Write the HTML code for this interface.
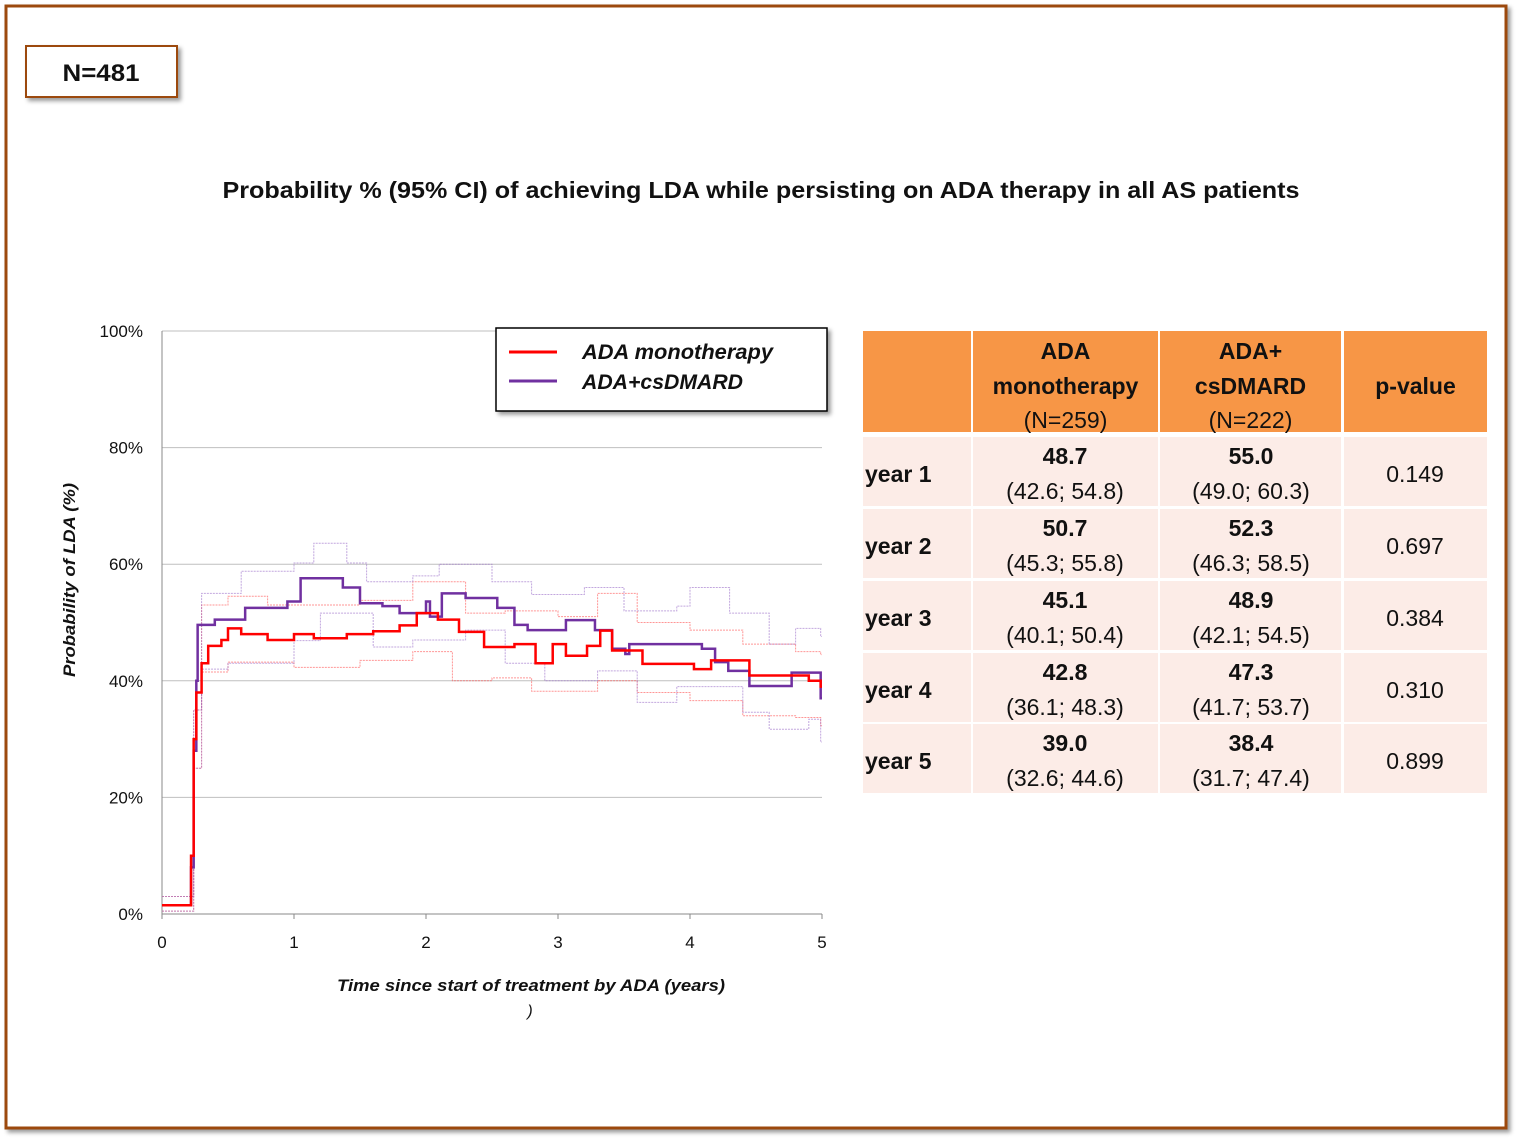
<!DOCTYPE html>
<html><head><meta charset="utf-8"><style>
html,body{margin:0;padding:0;background:#fff;}
svg{display:block;font-family:"Liberation Sans",sans-serif;}
</style></head><body>
<svg id="s" width="1521" height="1143" viewBox="0 0 1521 1143" xmlns="http://www.w3.org/2000/svg">
<defs>
<filter id="sh" x="-10%" y="-10%" width="130%" height="140%"><feDropShadow dx="3" dy="3" stdDeviation="2" flood-color="#000" flood-opacity="0.4"/></filter>
</defs>
<rect x="6" y="6" width="1500" height="1122" fill="#fff" stroke="#9c4a0c" stroke-width="3" filter="url(#sh)"/>
<g>
<rect x="26" y="46" width="151" height="51" fill="#fff" stroke="#9c4a0c" stroke-width="2" filter="url(#sh)"/>
<text x="101" y="81" text-anchor="middle" font-size="24" font-weight="bold" fill="#111" textLength="77" lengthAdjust="spacingAndGlyphs">N=481</text>
</g>
<text x="761" y="198" text-anchor="middle" font-size="23" font-weight="bold" fill="#111" textLength="1077" lengthAdjust="spacingAndGlyphs">Probability % (95% CI) of achieving LDA while persisting on ADA therapy in all AS patients</text>
<g id="grid"></g>
<g id="plot"></g>
<text transform="translate(75,580) rotate(-90)" text-anchor="middle" font-size="17" font-weight="bold" font-style="italic" fill="#111" textLength="194" lengthAdjust="spacingAndGlyphs">Probability  of  LDA (%)</text>
<text x="531" y="991" text-anchor="middle" font-size="17" font-weight="bold" font-style="italic" fill="#111" textLength="388" lengthAdjust="spacingAndGlyphs">Time since start of treatment by  ADA (years)</text>
<text x="530" y="1016" text-anchor="middle" font-size="16" font-style="italic" fill="#111">)</text>
<g>
<rect x="496" y="328" width="331" height="83" fill="#fff" stroke="#000" stroke-width="1.5" filter="url(#sh)"/>
<line x1="509" y1="352" x2="557" y2="352" stroke="#ff0000" stroke-width="3"/>
<text x="582" y="359" font-size="21" font-style="italic" font-weight="bold" fill="#111" textLength="191" lengthAdjust="spacingAndGlyphs">ADA monotherapy</text>
<line x1="509" y1="381" x2="557" y2="381" stroke="#7030a0" stroke-width="3"/>
<text x="582" y="389" font-size="21" font-style="italic" font-weight="bold" fill="#111" textLength="161" lengthAdjust="spacingAndGlyphs">ADA+csDMARD</text>
</g>
<g id="table"></g>
</svg>
<script>
const xTicks=[0,1,2,3,4,5];
const yTicks=[0,20,40,60,80,100];
const redT=[0,0.2,0.22,0.24,0.26,0.3,0.35,0.45,0.5,0.6,0.8,1.0,1.15,1.4,1.6,1.8,1.93,2.09,2.25,2.44,2.67,2.83,2.96,3.06,3.22,3.32,3.41,3.64,4.03,4.16,4.45,4.9,4.99];
const redV=[1.5,1.5,10,30,38,43,46,47,49,48,47,48,47.3,48,48.5,49.5,51.6,50.5,48.4,45.8,46.3,43,46.3,44.3,46,48.6,45.2,42.9,42,43.5,40.9,40,39];
const purT=[0,0.2,0.22,0.24,0.26,0.27,0.4,0.63,0.82,0.95,1.05,1.28,1.37,1.5,1.67,1.8,2.0,2.03,2.12,2.3,2.54,2.67,2.77,3.06,3.28,3.41,3.51,3.54,4.09,4.19,4.29,4.45,4.77,4.9,4.99];
const purV=[1.5,1.5,8,28,40,49.6,50.5,52.5,52.5,53.6,57.6,57.6,56,53.3,52.8,51.6,53.6,51,55,54.2,52.5,49.6,48.7,50.4,48.7,45.5,44.6,46.3,45.5,43.2,41.7,39.1,41.4,41.4,37];
const redUpT=[0,0.2,0.24,0.3,0.5,0.8,1.1,1.5,1.9,2.3,2.6,3.0,3.3,3.6,4.0,4.4,4.8,4.99];
const redUpV=[3,3,35,53,54.5,53,53,53.8,57,51.6,52,51,55,50,48.7,46.3,45,44.5];
const redLoT=[0,0.2,0.24,0.3,0.5,1.0,1.5,1.9,2.2,2.5,2.8,3.3,3.6,4.0,4.4,4.8,4.99];
const redLoV=[0.5,0.5,25,41.5,43.2,42.3,43.5,45,40,40.5,38.2,40,38,36.6,34,33.7,32.3];
const purUpT=[0,0.2,0.24,0.3,0.6,1.0,1.15,1.4,1.55,1.9,2.1,2.5,2.8,3.2,3.5,3.9,4.0,4.3,4.6,4.8,4.99];
const purUpV=[3,3,35,55,58.8,60.2,63.6,60.2,57,58,60,57,54.8,56,52,52.8,56,51.6,46.3,49,47.6];
const purLoT=[0,0.2,0.24,0.3,0.5,1.0,1.2,1.6,1.9,2.3,2.6,2.9,3.3,3.6,3.9,4.2,4.4,4.6,4.9,4.99];
const purLoV=[0.5,0.5,25,42,43,46.9,51.6,45.8,47,48.7,43,40,41.7,36.3,39,39,34.6,31.7,33.4,29.5];
const rowLabels=["year 1","year 2","year 3","year 4","year 5"];
const monoVals=["48.7","50.7","45.1","42.8","39.0"];
const monoCI=["(42.6; 54.8)","(45.3; 55.8)","(40.1; 50.4)","(36.1; 48.3)","(32.6; 44.6)"];
const comboVals=["55.0","52.3","48.9","47.3","38.4"];
const comboCI=["(49.0; 60.3)","(46.3; 58.5)","(42.1; 54.5)","(41.7; 53.7)","(31.7; 47.4)"];
const pVals=["0.149","0.697","0.384","0.310","0.899"];

const NS="http://www.w3.org/2000/svg";
const X0=162,X1=822,Y0=914,Y1=331;
const xs=t=>X0+(t/5)*(X1-X0);
const ys=v=>Y0-(v/100)*(Y0-Y1);
function mk(tag,attrs,parent,text){const e=document.createElementNS(NS,tag);for(const k in attrs)e.setAttribute(k,attrs[k]);if(text!==undefined)e.textContent=text;parent.appendChild(e);return e;}
const grid=document.getElementById('grid'),plot=document.getElementById('plot');
yTicks.forEach(v=>{
 if(v>0){const l=mk('line',{x1:X0,x2:X1,y1:ys(v),y2:ys(v),stroke:'#bfbfbf','stroke-width':1},grid);
 
 }
 const t=mk('text',{x:143,y:ys(v)+6,'text-anchor':'end','font-size':17,fill:'#111'},grid,v+'%');
 
 
});
const ax=mk('line',{x1:X0,x2:X0,y1:Y1,y2:Y0,stroke:'#888','stroke-width':1},grid);


const axx=mk('line',{x1:X0,x2:X1,y1:Y0,y2:Y0,stroke:'#888','stroke-width':1},grid);


xTicks.forEach(t=>{
 const l=mk('line',{x1:xs(t),x2:xs(t),y1:Y0,y2:Y0+5,stroke:'#888'},grid);
 
 
 const tx=mk('text',{x:xs(t),y:Y0+34,'text-anchor':'middle','font-size':17,fill:'#111'},grid,String(t));
 
 
});
function step(T,V){let d='M'+xs(T[0])+','+ys(V[0]);for(let i=1;i<T.length;i++){d+=' H'+xs(T[i])+' V'+ys(V[i]);}d+=' H'+xs(5);return d;}
function series(T,V,color,w,dash,op,name){
 const p=mk('path',{d:step(T,V),fill:'none',stroke:color,'stroke-width':w,'stroke-dasharray':dash,opacity:op},plot);
 
 
}
series(redUpT,redUpV,'#ff5050',1,'2,1',0.6,'ci-upper-mono');
series(redLoT,redLoV,'#ff5050',1,'2,1',0.6,'ci-lower-mono');
series(purUpT,purUpV,'#9a6cc8',1,'2,1',0.6,'ci-upper-combo');
series(purLoT,purLoV,'#9a6cc8',1,'2,1',0.6,'ci-lower-combo');
series(purT,purV,'#7030a0',2.5,'none',1,'line-combo');
series(redT,redV,'#ff0000',2.5,'none',1,'line-mono');

const tb=document.getElementById('table');
const cx=[863,973,1160,1344],cw=[108,185,181,143];
const hdr=[[],["ADA","monotherapy","(N=259)"],["ADA+","csDMARD","(N=222)"],["p-value"]];
for(let c=0;c<4;c++){
 const r=mk('rect',{x:cx[c],y:331,width:cw[c],height:101,fill:'#f79646'},tb);
 
 
 const h=hdr[c];const mid=cx[c]+cw[c]/2;
 if(h.length===3){
  mk('text',{x:mid,y:359,'text-anchor':'middle','font-size':23,'font-weight':'bold',fill:'#111'},tb,h[0]);
  mk('text',{x:mid,y:394,'text-anchor':'middle','font-size':23,'font-weight':'bold',fill:'#111'},tb,h[1]);
  mk('text',{x:mid,y:428,'text-anchor':'middle','font-size':23,fill:'#111'},tb,h[2]);
 } else if(h.length===1){
  mk('text',{x:mid,y:394,'text-anchor':'middle','font-size':23,'font-weight':'bold',fill:'#111'},tb,h[0]);
 }
}
const rowY=[437,509,581,653,724];
rowLabels.forEach((lab,i)=>{
 const y=rowY[i];
 for(let c=0;c<4;c++){
  const r=mk('rect',{x:cx[c],y:y,width:cw[c],height:69,fill:'#fcece7'},tb);
  
  
 }
 const t=mk('text',{x:865,y:y+45,'font-size':23,'font-weight':'bold',fill:'#111'},tb,lab);
 
 
 mk('text',{x:1065,y:y+27,'text-anchor':'middle','font-size':23,'font-weight':'bold',fill:'#111'},tb,monoVals[i]);
 mk('text',{x:1065,y:y+62,'text-anchor':'middle','font-size':23,fill:'#111'},tb,monoCI[i]);
 mk('text',{x:1251,y:y+27,'text-anchor':'middle','font-size':23,'font-weight':'bold',fill:'#111'},tb,comboVals[i]);
 mk('text',{x:1251,y:y+62,'text-anchor':'middle','font-size':23,fill:'#111'},tb,comboCI[i]);
 mk('text',{x:1415,y:y+45,'text-anchor':'middle','font-size':23,fill:'#111'},tb,pVals[i]);
});
</script>
</body></html>
